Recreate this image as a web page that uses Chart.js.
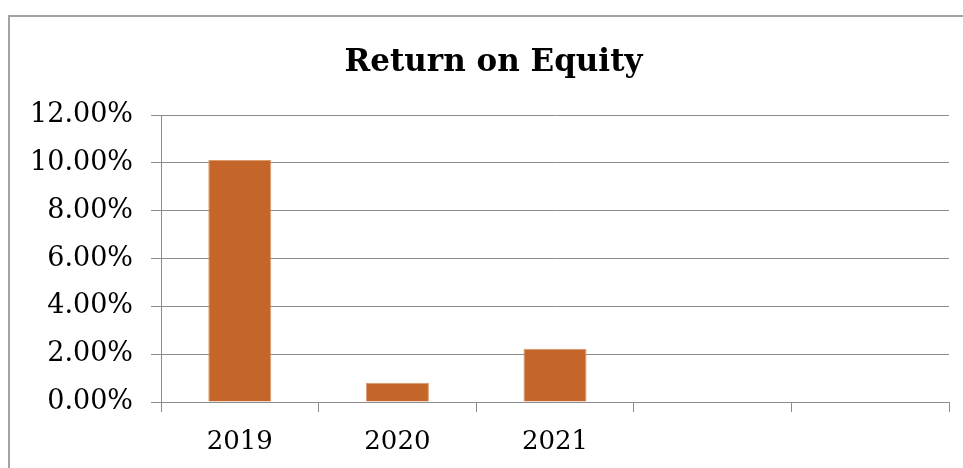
<!DOCTYPE html>
<html>
<head>
<meta charset="utf-8">
<script src="https://cdn.jsdelivr.net/npm/chart.js@4"></script>
<style>
  html, body { margin: 0; padding: 0; background: #fff; overflow: hidden; }
  #frame {
    position: absolute; left: 8px; top: 15px; width: 970px; height: 470px;
    border-left: 2px solid #a3a3a3; border-top: 2px solid #a3a3a3;
  }
  #wrap { position: absolute; left: 0; top: 0; width: 963px; height: 468px; }
</style>
</head>
<body>
<div id="frame"></div>
<div id="wrap"><canvas id="roe"></canvas></div>
<script>
const anos = ["2019", "2020", "2021", "", ""];
const roe = [10.13, 0.81, 2.23, null, null];
const yTicks = [0, 2, 4, 6, 8, 10, 12];

const cinza = "#8c8c8c";
const fonte = "'DejaVu Serif', serif";

// o título do original fica um pouco à direita do centro do canvas
const deslocaTitulo = {
  id: "deslocaTitulo",
  afterLayout(chart) {
    if (chart.titleBlock) chart.titleBlock.left += 38;
  }
};

new Chart(document.getElementById("roe"), {
  type: "bar",
  data: {
    labels: anos,
    datasets: [{
      data: roe,
      backgroundColor: "#c46629",
      borderColor: "#dc9a70",
      borderWidth: 1,
      barPercentage: 0.4,
      categoryPercentage: 1
    }]
  },
  options: {
    responsive: true,
    maintainAspectRatio: false,
    animation: false,
    layout: { padding: { left: 0, right: 14, top: 0, bottom: 0 } },
    plugins: {
      legend: { display: false },
      tooltip: { enabled: false },
      title: {
        display: true,
        text: "Return on Equity",
        color: "#000",
        font: { family: fonte, size: 31, weight: "bold" },
        padding: { top: 44, bottom: 34 }
      }
    },
    scales: {
      x: {
        grid: { drawOnChartArea: false, drawTicks: true, tickLength: 10, color: cinza, offset: true },
        border: { color: cinza, width: 1 },
        ticks: { color: "#000", font: { family: fonte, size: 26 }, padding: 15, maxRotation: 0 },
        afterFit: s => { s.height = 66; }
      },
      y: {
        min: 0,
        max: 12,
        afterBuildTicks: s => { s.ticks = yTicks.map(v => ({ value: v })); },
        grid: { color: cinza, tickLength: 10 },
        border: { color: cinza, width: 1 },
        ticks: {
          color: "#000",
          font: { family: fonte, size: 27 },
          padding: 18,
          callback: v => v.toFixed(2) + "%"
        },
        afterFit: s => { s.width = 161; }
      }
    }
  },
  plugins: [deslocaTitulo]
});
</script>
</body>
</html>
